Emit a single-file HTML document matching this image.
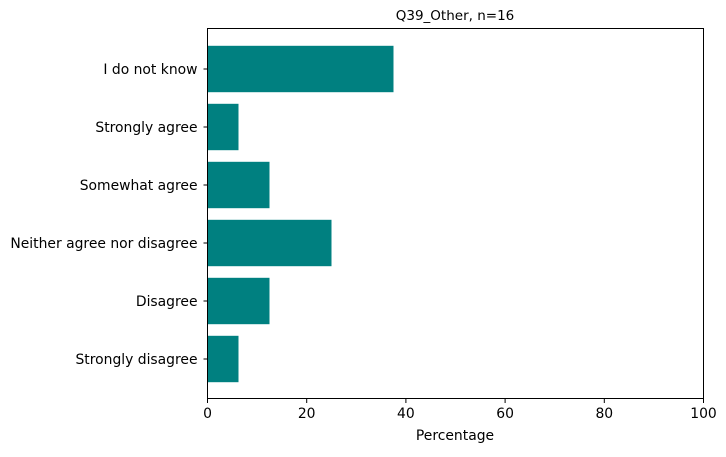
<!DOCTYPE html>
<html><head><meta charset="utf-8"><style>
body{margin:0;background:#fff;}
svg text{font-family:"DejaVu Sans","Liberation Sans",sans-serif;fill:#000;}
</style></head><body>
<svg id="chart" width="726" height="452" xmlns="http://www.w3.org/2000/svg">
<text x="455" y="20" font-size="13.5" text-anchor="middle">Q39_Other, n=16</text>
<g id="bars"></g>
<g id="yticks"></g>
<g id="xticks"></g>
<rect x="207.5" y="28.5" width="496" height="370" fill="none" stroke="#000" stroke-width="1"/>
<text x="455" y="440" font-size="13.9" text-anchor="middle">Percentage</text>
</svg>
<script>
const categories=["Strongly disagree","Disagree","Neither agree nor disagree","Somewhat agree","Strongly agree","I do not know"];
const values=[6.25,12.5,25,12.5,6.25,37.5];
const xTicks=[0,20,40,60,80,100];
const NS="http://www.w3.org/2000/svg";
const x0=207.5,x1=703.5,xMax=100;
function xs(v){return x0+(v/xMax)*(x1-x0);}
function yc(i){return 359-58*i;}
const bh=46.4;
const bars=document.getElementById('bars'),yt=document.getElementById('yticks'),xt=document.getElementById('xticks');
categories.forEach((c,i)=>{
 const r=document.createElementNS(NS,'rect');
 r.setAttribute('x',xs(0));r.setAttribute('y',yc(i)-bh/2);
 r.setAttribute('width',xs(values[i])-xs(0));r.setAttribute('height',bh);
 r.setAttribute('fill','#008080');
 
 
 bars.appendChild(r);
 const l=document.createElementNS(NS,'line');
 l.setAttribute('x1',x0-4);l.setAttribute('x2',x0);l.setAttribute('y1',yc(i));l.setAttribute('y2',yc(i));l.setAttribute('stroke','#000');
 
 
 yt.appendChild(l);
 const t=document.createElementNS(NS,'text');
 t.setAttribute('x',x0-10);t.setAttribute('y',yc(i)+5);t.setAttribute('font-size','13.9');t.setAttribute('text-anchor','end');
 t.textContent=c;
 
 
 yt.appendChild(t);
});
xTicks.forEach(v=>{
 const l=document.createElementNS(NS,'line');
 l.setAttribute('x1',xs(v));l.setAttribute('x2',xs(v));l.setAttribute('y1',398.5);l.setAttribute('y2',403);l.setAttribute('stroke','#000');
 
 
 xt.appendChild(l);
 const t=document.createElementNS(NS,'text');
 t.setAttribute('x',xs(v));t.setAttribute('y',418);t.setAttribute('font-size','13.9');t.setAttribute('text-anchor','middle');
 t.textContent=v;
 
 
 xt.appendChild(t);
});
</script>
</body></html>
